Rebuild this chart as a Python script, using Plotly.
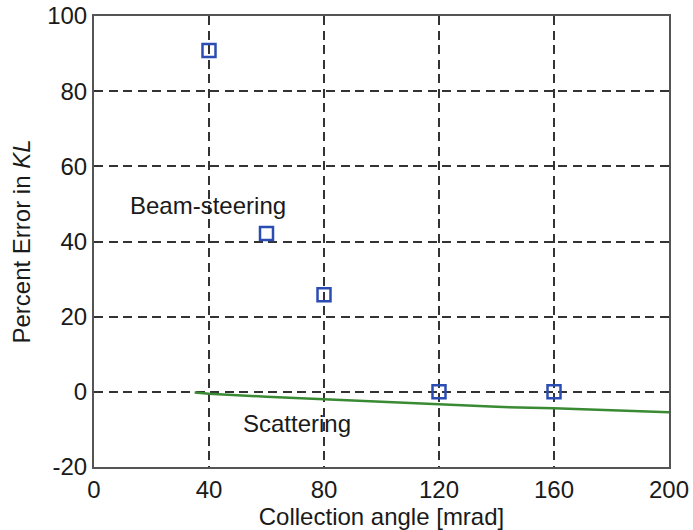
import plotly.graph_objects as go

# Beam-steering error (open squares)
beam_x = [40, 60, 80, 120, 160]
beam_y = [90.8, 42.1, 25.8, 0.0, 0.0]

# Scattering error (green line)
scat_x = [35, 40, 60, 80, 100, 120, 140, 160, 180, 200]
scat_y = [-0.2, -0.5, -1.3, -2.0, -2.6, -3.2, -4.0, -4.4, -4.9, -5.4]

x_ticks = [0, 40, 80, 120, 160, 200]
x_ticktext = ["0", "40", "80", "120", "160", "200"]
y_ticks = [-20, 0, 20, 40, 60, 80, 100]
y_ticktext = ["-20", "0", "20", "40", "60", "80", "100"]

FONT = "Liberation Sans, Arial, sans-serif"
TXT = "#1a1a1a"

fig = go.Figure()
fig.add_trace(go.Scatter(
    x=scat_x, y=scat_y, mode="lines",
    line=dict(color="#3a8a34", width=2.5), showlegend=False))
fig.add_trace(go.Scatter(
    x=beam_x, y=beam_y, mode="markers",
    marker=dict(symbol="square-open", size=13, color="#2b4db3",
                line=dict(width=2.5, color="#2b4db3")),
    showlegend=False))

fig.add_annotation(x=39.5, y=49.5, xref="x", yref="y", text="Beam-steering",
                   showarrow=False, font=dict(family=FONT, size=24, color=TXT))
fig.add_annotation(x=70.5, y=-8.5, xref="x", yref="y", text="Scattering",
                   showarrow=False, font=dict(family=FONT, size=24, color=TXT))

axis_common = dict(
    showline=True, linecolor="#555555", linewidth=2, mirror=True,
    showgrid=True, gridcolor="#333333", gridwidth=1.5, griddash="9px,5.5px",
    zeroline=False, ticks="", automargin=False, ticklabeloverflow="allow",
    tickfont=dict(family=FONT, size=24, color=TXT),
)

fig.update_xaxes(range=[0, 200], tickvals=x_ticks, ticktext=x_ticktext,
                 title=dict(text="Collection angle [mrad]", standoff=0,
                            font=dict(family=FONT, size=24, color=TXT)),
                 **axis_common)
fig.update_yaxes(range=[-20, 100], tickvals=y_ticks, ticktext=y_ticktext,
                 title=dict(text="Percent Error in <i>KL</i>", standoff=10,
                            font=dict(family=FONT, size=24, color=TXT)),
                 **axis_common)

fig.update_layout(
    width=693, height=530,
    margin=dict(l=94, r=24, t=16, b=63),
    paper_bgcolor="white", plot_bgcolor="white",
)

# remove the browser's default body margin so the figure fills the window
fig.write_html("out.html", config={"displayModeBar": False},
               post_script="document.body.style.margin='0';")
